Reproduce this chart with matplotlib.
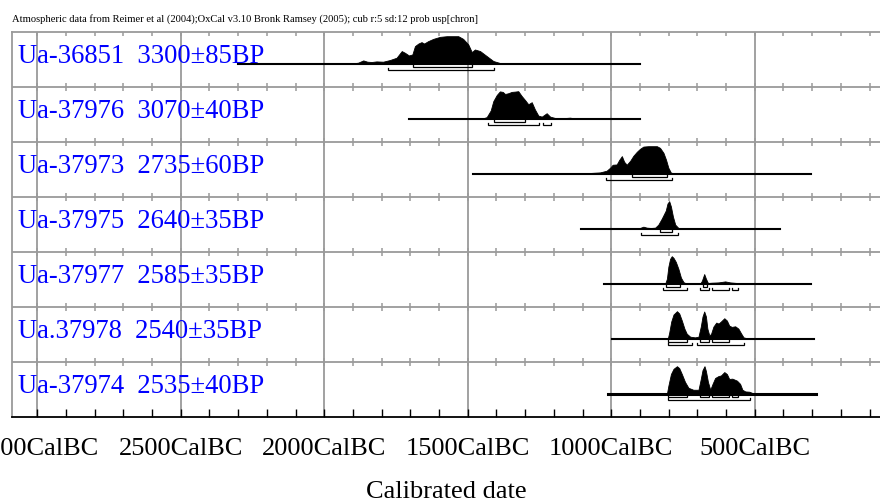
import matplotlib
matplotlib.use("Agg")
import matplotlib.pyplot as plt
from matplotlib.ticker import MultipleLocator
from matplotlib.transforms import blended_transform_factory

TITLE = "Atmospheric data from Reimer et al (2004);OxCal v3.10 Bronk Ramsey (2005); cub r:5 sd:12 prob usp[chron]"

LABELS = [
    "Ua-36851  3300±85BP",
    "Ua-37976  3070±40BP",
    "Ua-37973  2735±60BP",
    "Ua-37975  2640±35BP",
    "Ua-37977  2585±35BP",
    "Ua.37978  2540±35BP",
    "Ua-37974  2535±40BP",
]

# calibrated probability curves (years BC, relative probability)
row1_bc = [1911, 1882, 1864, 1850, 1835, 1818, 1795, 1771, 1748, 1730, 1719, 1705, 1693, 1684, 1672, 1661,
           1652, 1638, 1620, 1597, 1573, 1533, 1516, 1498, 1486, 1475, 1457, 1434, 1411, 1388, 1329]
row1_p = [0, 1, 3.3, 2, 1.7, 2.3, 2, 3.7, 6, 12.7, 11, 8.3, 9.3, 17.7, 20.3, 21.7,
          20.3, 22.7, 25, 27, 27.7, 27.7, 25, 19.3, 11.7, 14.3, 12.7, 7.7, 2.7, 0.7, 0]

row2_bc = [1451, 1434, 1420, 1411, 1399, 1388, 1378, 1370, 1359, 1347, 1335, 1324, 1312, 1300, 1289, 1277,
           1266, 1254, 1242, 1225, 1213, 1196, 1167, 1144, 1120]
row2_p = [0, 1.5, 8, 17, 23, 26.5, 26, 24, 24.7, 26, 26.3, 26.7, 22, 18, 14, 16,
          9, 3, 2, 5.3, 2, 0.7, 0.5, 1, 0]

row3_bc = [1110, 1074, 1039, 1016, 1004, 995, 981, 972, 963, 955, 946, 934, 923, 911, 900, 888,
           871, 841, 830, 818, 809, 801, 792, 771]
row3_p = [0, 0.7, 1.3, 3, 6, 9, 9.3, 14, 17.7, 12, 9, 13, 18, 22, 25, 27.3,
          27.7, 27.7, 26, 21, 14, 6, 1, 0]

row4_bc = [911, 900, 888, 876, 862, 847, 836, 824, 810, 804, 798, 792, 785, 777, 766, 749]
row4_p = [0, 0.7, 2, 1, 0.7, 1, 4, 10, 18, 25, 27.3, 22, 12, 4, 0.7, 0]

row5_bc = [812, 806, 801, 795, 789, 783, 775, 766, 757, 748, 737, 690, 684, 676, 670, 663,
           649, 626, 603, 586, 562, 545]
row5_p = [0, 5, 17, 25, 27.7, 26, 22, 15, 6, 1.5, 0, 0, 3, 9.7, 5, 0.7,
          1, 1.3, 2.3, 1.3, 0.7, 0]

row6_bc = [803, 798, 791, 783, 771, 763, 754, 745, 737, 725, 708, 696, 688, 682, 676, 670,
           665, 658, 652, 644, 634, 626, 618, 606, 597, 589, 580, 568, 557, 547, 539, 522]
row6_p = [0, 6, 17, 24, 27.3, 25, 18, 10, 5, 2, 1.3, 2, 12, 22, 27, 22,
          10, 3, 5, 12, 16, 15, 17, 20.3, 18, 13, 11.7, 12.3, 10, 5, 1.3, 0]

row7_bc = [806, 801, 792, 783, 771, 763, 754, 743, 731, 714, 696, 688, 682, 675, 670, 663,
           655, 647, 638, 626, 618, 606, 597, 589, 578, 562, 551, 543, 533, 519, 508, 487,
           452, 423, 405]
row7_p = [0, 8, 20, 25.3, 28, 26, 20, 12, 6, 4, 4, 15, 24, 28, 23, 12,
          4, 10, 16, 18, 18.5, 22, 20, 15, 15.3, 13.3, 10, 4, 2.3, 2, 0.7, 0.3,
          0.7, 0.3, 0]

CURVES_BC = [row1_bc, row2_bc, row3_bc, row4_bc, row5_bc, row6_bc, row7_bc]
CURVES_P = [row1_p, row2_p, row3_p, row4_p, row5_p, row6_p, row7_p]

# extent of the calibration line drawn under each curve (BC)
SPANS = [(2301, 899), (1705, 899), (1482, 304), (1105, 411), (1025, 303), (998, 295), (1010, 287)]

# 68.2% and 95.4% ranges (BC)
RANGES_68 = [
    [(1690, 1486)],
    [(1408, 1300)],
    [(928, 806)],
    [(830, 789)],
    [(809, 760), (679, 667)],
    [(801, 737), (690, 659), (649, 588)],
    [(801, 737), (690, 659), (649, 588), (580, 558)],
]
RANGES_95 = [
    [(1779, 1409)],
    [(1428, 1252), (1239, 1210)],
    [(1019, 789)],
    [(897, 768)],
    [(820, 737), (689, 659), (649, 588), (580, 558)],
    [(801, 720), (700, 539)],
    [(801, 518)],
]

MAJOR_BC = [3000, 2500, 2000, 1500, 1000, 500]

GRID = "#9a9a9a"


def draw_bracket(ax, bc_start, bc_end, y):
    tick = 0.035
    ax.plot([-bc_start, -bc_start, -bc_end, -bc_end], [y + tick, y, y, y + tick],
            color="black", lw=0.9, solid_joinstyle="miter", zorder=3)


def main() -> None:
    plt.rcParams["font.family"] = ["Liberation Serif", "DejaVu Serif"]
    fig = plt.figure(figsize=(8.8, 5.01), dpi=100)
    ax = fig.add_axes([12 / 880, 84 / 501, 868 / 880, 385 / 501])
    n = len(LABELS)
    ax.set_xlim(-3088, -63.5)
    ax.set_ylim(0, n)

    # grid: vertical lines every 500 years, horizontal line between rows
    ax.vlines([-b for b in MAJOR_BC], 0, n, color=GRID, lw=1.3, zorder=0)
    ax.hlines(range(1, n), -3088, -63.5, color=GRID, lw=1.3, zorder=0)
    minor = list(range(-3000, -63, 100))
    for k in range(1, n):
        ax.vlines(minor, k - 0.075, k + 0.075, color=GRID, lw=1.1, zorder=0)
    ax.vlines(minor, n - 0.075, n, color=GRID, lw=1.1, zorder=0)

    label_tf = blended_transform_factory(ax.transAxes, ax.transData)
    for i in range(n):
        base = n - i - 0.576
        bc = CURVES_BC[i]
        p = CURVES_P[i]
        top = max(p)
        x = [-v for v in bc]
        y = [base + 0.5 * v / top for v in p]
        lw = 2.2 if i == n - 1 else 1.5
        ax.plot([-SPANS[i][0], -SPANS[i][1]], [base, base], color="black", lw=lw, zorder=2)
        ax.fill_between(x, base, y, color="black", lw=0.6, edgecolor="black", zorder=2)
        for a, b in RANGES_68[i]:
            draw_bracket(ax, a, b, base - 0.055)
        for a, b in RANGES_95[i]:
            draw_bracket(ax, a, b, base - 0.12)
        ax.text(0.0073, n - i - 0.57, LABELS[i], transform=label_tf, color="#0000ff",
                fontsize=19.2, va="baseline", ha="left", zorder=4)

    ax.set_xticks([-b for b in MAJOR_BC])
    ax.set_xticklabels([f"{b}CalBC" for b in MAJOR_BC], fontsize=19)
    ax.xaxis.set_minor_locator(MultipleLocator(100))
    ax.tick_params(axis="x", which="both", direction="in", length=6, width=1, color="black", pad=15)
    ax.set_yticks([])
    ax.set_xlabel("Calibrated date", fontsize=19, labelpad=15)

    for side in ("left", "top"):
        ax.spines[side].set_color(GRID)
        ax.spines[side].set_linewidth(1.3)
    ax.spines["right"].set_visible(False)
    ax.spines["bottom"].set_linewidth(1.3)

    fig.text(12 / 880, 1 - 21.7 / 501, TITLE, fontsize=7.6, va="baseline", ha="left")

    fig.savefig("out.png", dpi=100)
    plt.close(fig)


if __name__ == "__main__":
    main()
